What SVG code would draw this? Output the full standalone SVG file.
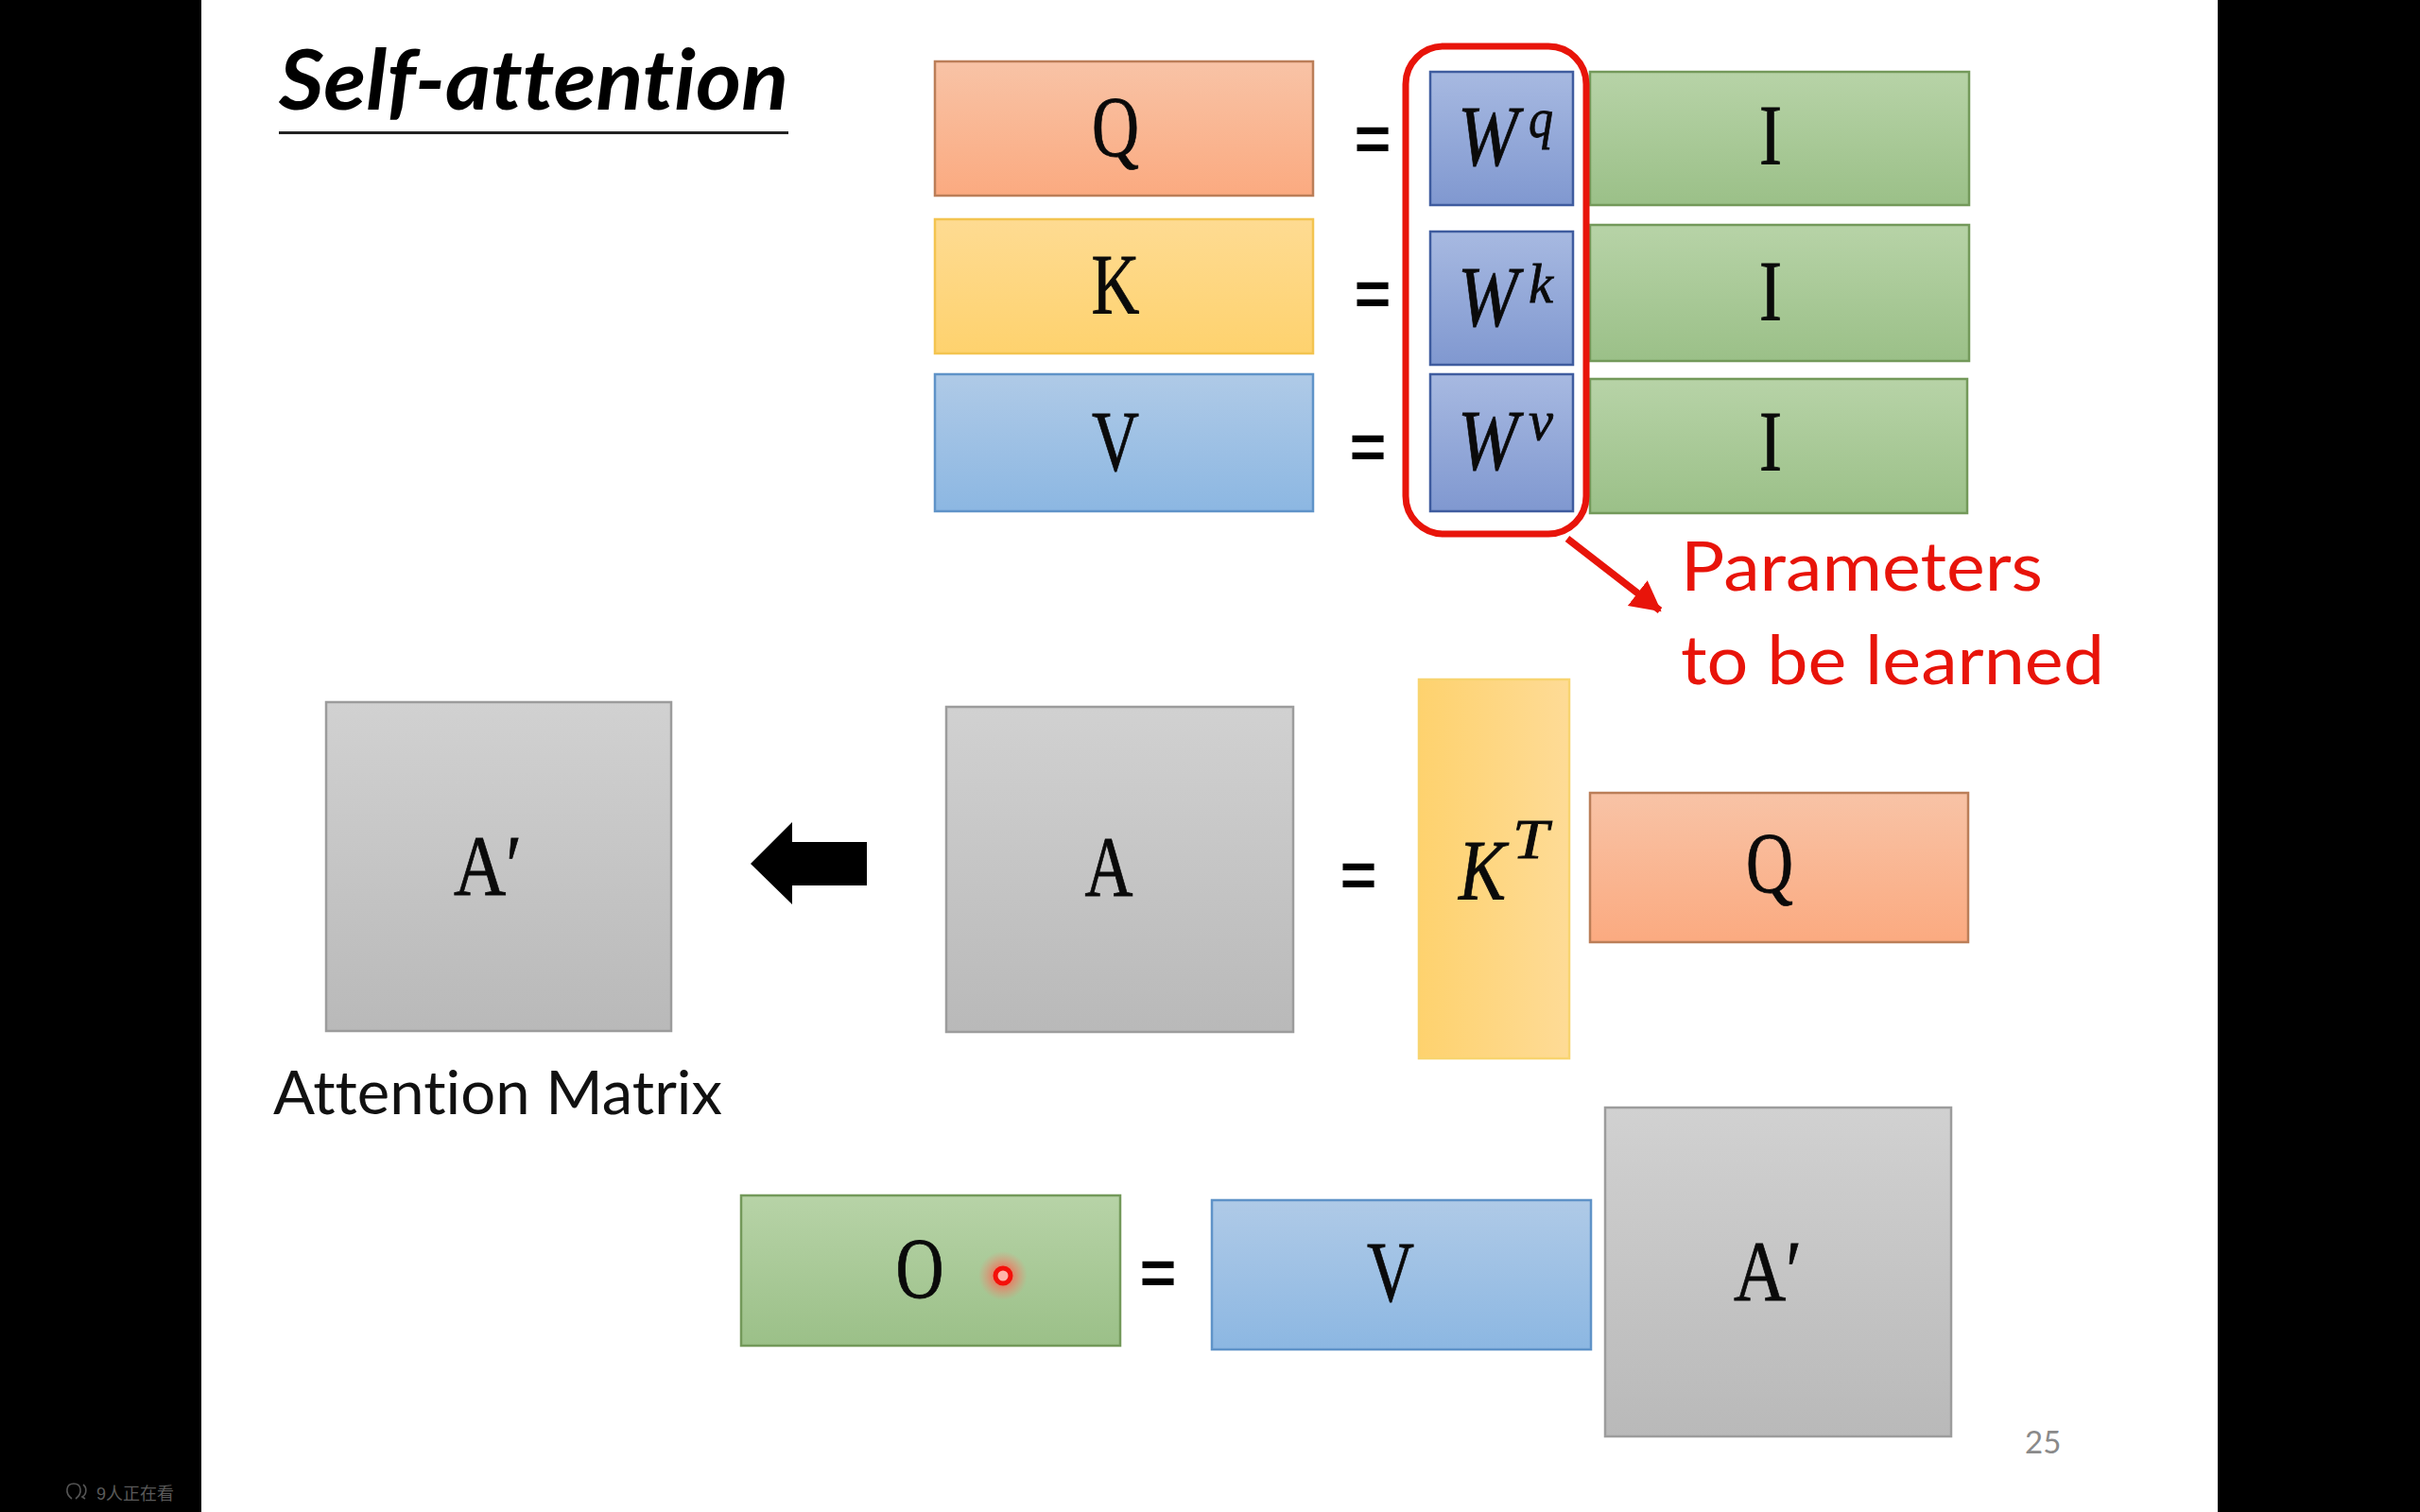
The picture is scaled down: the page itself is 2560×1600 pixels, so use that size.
<svg xmlns="http://www.w3.org/2000/svg" width="2560" height="1600" viewBox="0 0 2560 1600">
<style>
.m{font-family:"Liberation Serif",serif;font-size:90px;fill:#0a0a0a;stroke:#0a0a0a;stroke-width:.8;text-anchor:middle}
.i{font-style:italic}
.s{font-family:"Liberation Serif",serif;font-size:60px;font-style:italic;fill:#0a0a0a;stroke:#0a0a0a;stroke-width:.8}
.e{font-family:"Liberation Sans",sans-serif;font-weight:700;font-size:66px;fill:#000;text-anchor:middle}
.l{font-family:Lato,"Noto Sans",sans-serif;font-variant-ligatures:none}
.q{fill:url(#gq);stroke:#bb7e58;stroke-width:2.5}
.k{fill:url(#gk);stroke:#f3c450;stroke-width:2.5}
.v{fill:url(#gv);stroke:#5f93c8;stroke-width:2.5}
.w{fill:url(#gw);stroke:#3f5c9f;stroke-width:2.5}
.g{fill:url(#gg);stroke:#73995a;stroke-width:2.5}
.a{fill:url(#ga);stroke:#9c9c9c;stroke-width:2.5}
</style>
<defs>
<linearGradient id="gq" x1="0" y1="0" x2="0" y2="1"><stop offset="0" stop-color="#f8c3a6"/><stop offset="1" stop-color="#fbaa80"/></linearGradient>
<linearGradient id="gk" x1="0" y1="0" x2="0" y2="1"><stop offset="0" stop-color="#fedb92"/><stop offset="1" stop-color="#fed26e"/></linearGradient>
<linearGradient id="gkh" x1="0" y1="0" x2="1" y2="0"><stop offset="0" stop-color="#fed26e"/><stop offset="1" stop-color="#fedb96"/></linearGradient>
<linearGradient id="gv" x1="0" y1="0" x2="0" y2="1"><stop offset="0" stop-color="#afcae7"/><stop offset="1" stop-color="#8cb7e2"/></linearGradient>
<linearGradient id="gw" x1="0" y1="0" x2="0" y2="1"><stop offset="0" stop-color="#a7b9e1"/><stop offset="1" stop-color="#8098d0"/></linearGradient>
<linearGradient id="gg" x1="0" y1="0" x2="0" y2="1"><stop offset="0" stop-color="#b7d3a7"/><stop offset="1" stop-color="#9bc088"/></linearGradient>
<linearGradient id="ga" x1="0" y1="0" x2="0" y2="1"><stop offset="0" stop-color="#d1d1d1"/><stop offset="1" stop-color="#b9b9b9"/></linearGradient>
<radialGradient id="glow"><stop offset="0.3" stop-color="#ff5a4a" stop-opacity="0.75"/><stop offset="1" stop-color="#ff7a6a" stop-opacity="0"/></radialGradient>
<marker id="redhead" markerUnits="userSpaceOnUse" markerWidth="44" markerHeight="44" refX="30" refY="17" orient="auto"><path d="M0 0L32 17L0 34Z" fill="#e8140a"/></marker>
</defs>
<rect width="2560" height="1600" fill="#000"/>
<rect x="213" y="0" width="2133" height="1600" fill="#fff"/>

<g id="title"><text class="l" x="295" y="116" font-size="88" font-weight="700" font-style="italic" fill="#000" textLength="539" lengthAdjust="spacingAndGlyphs">Self-attention</text><rect x="295" y="139" width="539" height="3" fill="#222"/></g>

<g id="q-top"><rect class="q" x="989" y="65" width="400" height="142"/><text class="m" x="1180" y="165" textLength="50" lengthAdjust="spacingAndGlyphs">Q</text></g>
<g id="k-top"><rect class="k" x="989" y="232" width="400" height="142"/><text class="m" x="1180" y="332" textLength="51" lengthAdjust="spacingAndGlyphs">K</text></g>
<g id="v-top"><rect class="v" x="989" y="396" width="400" height="145"/><text class="m" x="1180" y="498" textLength="50" lengthAdjust="spacingAndGlyphs">V</text></g>

<g id="eq1"><text class="e" x="1452" y="170">=</text></g>
<g id="eq2"><text class="e" x="1452" y="334">=</text></g>
<g id="eq3"><text class="e" x="1447" y="496">=</text></g>

<g id="wq"><rect class="w" x="1513" y="76" width="151" height="141"/><text class="m i" x="1574" y="175" textLength="64" lengthAdjust="spacingAndGlyphs">W</text><text class="s" x="1617" y="145" textLength="26" lengthAdjust="spacingAndGlyphs">q</text></g>
<g id="wk"><rect class="w" x="1513" y="245" width="151" height="141"/><text class="m i" x="1574" y="345" textLength="64" lengthAdjust="spacingAndGlyphs">W</text><text class="s" x="1617" y="320" textLength="26" lengthAdjust="spacingAndGlyphs">k</text></g>
<g id="wv"><rect class="w" x="1513" y="396" width="151" height="145"/><text class="m i" x="1574" y="497" textLength="64" lengthAdjust="spacingAndGlyphs">W</text><text class="s" x="1617" y="465" textLength="26" lengthAdjust="spacingAndGlyphs">v</text></g>

<g id="i1"><rect class="g" x="1682" y="76" width="401" height="141"/><text class="m" x="1873" y="174" textLength="24" lengthAdjust="spacingAndGlyphs">I</text></g>
<g id="i2"><rect class="g" x="1682" y="238" width="401" height="144"/><text class="m" x="1873" y="339" textLength="24" lengthAdjust="spacingAndGlyphs">I</text></g>
<g id="i3"><rect class="g" x="1682" y="401" width="399" height="142"/><text class="m" x="1873" y="498" textLength="24" lengthAdjust="spacingAndGlyphs">I</text></g>

<g id="param-box"><rect x="1487" y="49" width="191" height="516" rx="40" ry="40" fill="none" stroke="#e8140a" stroke-width="7"/></g>
<g id="connectors"><line x1="1658" y1="570" x2="1756" y2="646" stroke="#e8140a" stroke-width="7.5" marker-end="url(#redhead)"/><path d="M917 891H838V870L794 914L838 957V937H917Z" fill="#000"/></g>
<g id="param-label" class="l" font-size="72" fill="#e8140a"><text x="1778" y="625" textLength="383" lengthAdjust="spacingAndGlyphs">Parameters</text><text x="1778" y="724" textLength="448" lengthAdjust="spacingAndGlyphs">to be learned</text></g>

<g id="aprime"><rect class="a" x="345" y="743" width="365" height="348"/><text class="m" x="516" y="947" textLength="72" lengthAdjust="spacingAndGlyphs">A′</text></g>
<g id="attention-label"><text class="l" x="289" y="1179" font-size="64" fill="#111" textLength="475" lengthAdjust="spacingAndGlyphs">Attention Matrix</text></g>
<g id="a"><rect class="a" x="1001" y="748" width="367" height="344"/><text class="m" x="1173" y="948" textLength="51" lengthAdjust="spacingAndGlyphs">A</text></g>
<g id="eq4"><text class="e" x="1437" y="949">=</text></g>
<g id="kt"><rect x="1501" y="719" width="159" height="401" fill="url(#gkh)" stroke="#f8d470" stroke-width="2.5"/><text class="m i" x="1568" y="952" textLength="50" lengthAdjust="spacingAndGlyphs">K</text><text class="s" x="1600" y="908" font-size="64" textLength="38" lengthAdjust="spacingAndGlyphs">T</text></g>
<g id="q2"><rect class="q" x="1682" y="839" width="400" height="158"/><text class="m" x="1872" y="944" textLength="50" lengthAdjust="spacingAndGlyphs">Q</text></g>

<g id="o"><rect class="g" x="784" y="1265" width="401" height="159"/><text class="m" x="973" y="1373" textLength="51" lengthAdjust="spacingAndGlyphs">O</text></g>
<circle cx="1061" cy="1350" r="26" fill="url(#glow)"/><circle cx="1061" cy="1350" r="8" fill="#ffb4a8" stroke="#f4100a" stroke-width="5"/>
<g id="eq5"><text class="e" x="1225" y="1370">=</text></g>
<g id="v2"><rect class="v" x="1282" y="1270" width="401" height="158"/><text class="m" x="1471" y="1377" textLength="50" lengthAdjust="spacingAndGlyphs">V</text></g>
<g id="aprime2"><rect class="a" x="1698" y="1172" width="366" height="348"/><text class="m" x="1870" y="1376" textLength="72" lengthAdjust="spacingAndGlyphs">A′</text></g>
<g id="page"><text class="l" x="2142" y="1538" font-size="33" fill="#8a8a8a">25</text></g>
<g id="viewers"><path d="M76 1586C68 1580 70 1570 78 1570C86 1570 88 1580 80 1586M88 1571C92 1574 92 1581 87 1584L90 1586" fill="none" stroke="#555" stroke-width="1.6"/><text x="102" y="1587" font-family="'Liberation Sans','Noto Sans CJK SC',sans-serif" font-size="18" fill="#5a5a5a">9人正在看</text></g>
</svg>
